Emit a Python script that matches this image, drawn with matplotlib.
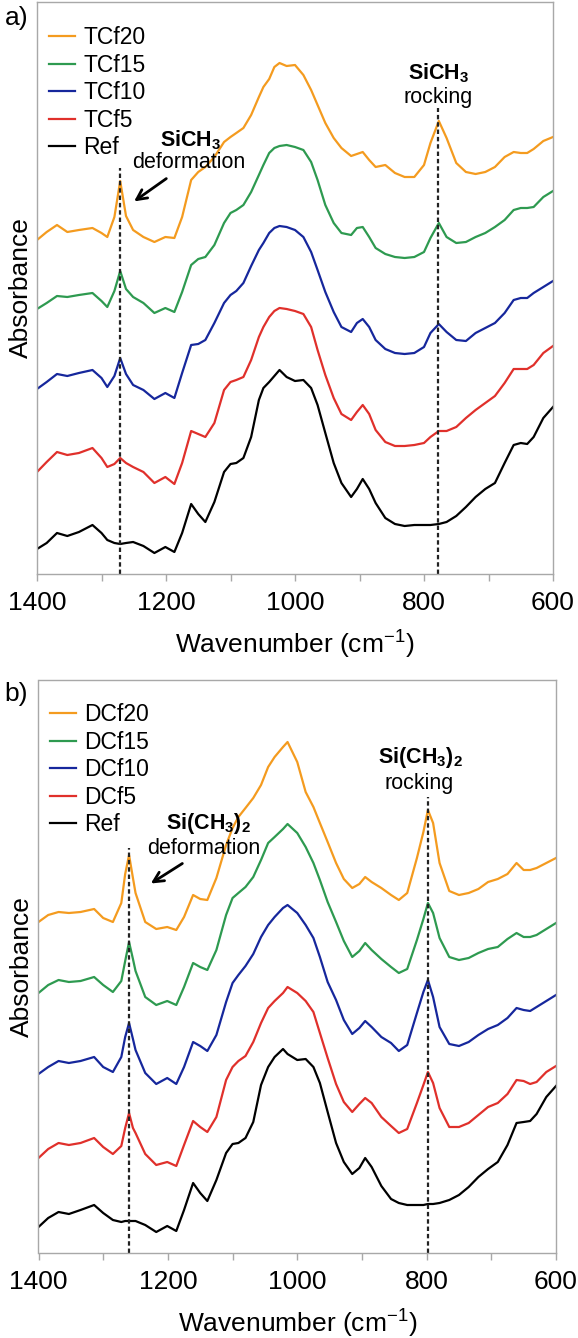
import matplotlib
matplotlib.use('Agg')
import matplotlib.pyplot as plt

plt.rcParams['font.family'] = ['Liberation Sans', 'DejaVu Sans']
plt.rcParams['mathtext.fontset'] = 'custom'
plt.rcParams['mathtext.rm'] = 'Liberation Sans'
plt.rcParams['mathtext.it'] = 'Liberation Sans:italic'
plt.rcParams['mathtext.bf'] = 'Liberation Sans:bold'

# panel a: trimethyl series, stacked absorbance (a.u.)
wn_a = [1400, 1385, 1369, 1353, 1335, 1314, 1300, 1291, 1280, 1271, 1262, 1251, 1235, 1218,
        1201, 1187, 1175, 1161, 1150, 1139, 1125, 1110, 1100, 1091, 1080, 1068, 1056, 1049,
        1040, 1032, 1024, 1013, 1000, 987, 975, 965, 953, 940, 928, 913, 904, 895, 885, 875,
        860, 845, 830, 815, 800, 790, 777, 765, 750, 735, 720, 705, 690, 675, 661, 650, 640,
        630, 615, 600]
tcf20 = [334, 342, 349, 342, 344, 346, 341, 337, 357, 393, 358, 344, 337, 332,
         337, 336, 357, 394, 402, 407, 417, 432, 437, 441, 446, 459, 477, 487,
         495, 507, 511, 508, 509, 499, 484, 469, 451, 436, 426, 418, 420, 422, 414, 407,
         409, 401, 397, 397, 409, 431, 453, 436, 411, 402, 400, 402, 407, 417, 422, 421, 421,
         425, 433, 437]
tcf15 = [265, 271, 278, 277, 279, 281, 273, 267, 283, 303, 285, 277, 271, 261,
         266, 262, 282, 309, 315, 317, 329, 351, 361, 364, 369, 382, 399, 409,
         421, 426, 428, 429, 427, 424, 412, 394, 369, 351, 341, 339, 346, 347, 337, 326,
         320, 317, 316, 317, 322, 336, 351, 337, 331, 332, 337, 341, 347, 354, 364, 366, 366,
         367, 377, 383]
tcf10 = [185, 192, 200, 198, 201, 204, 196, 187, 198, 216, 200, 189, 184, 175,
         181, 176, 201, 229, 230, 234, 251, 271, 279, 283, 291, 308, 324, 331,
         341, 346, 348, 347, 344, 337, 322, 304, 282, 262, 247, 242, 251, 255, 247, 234,
         225, 221, 220, 221, 227, 241, 250, 242, 234, 233, 241, 246, 251, 261, 274, 276, 276,
         281, 287, 293]
tcf5 = [102, 112, 122, 119, 121, 126, 116, 107, 110, 116, 111, 107, 102, 91,
        97, 90, 111, 143, 140, 137, 151, 184, 192, 194, 197, 214, 237, 247,
        257, 263, 266, 265, 263, 260, 247, 224, 199, 176, 160, 154, 162, 169, 160, 144,
        132, 128, 128, 129, 131, 137, 143, 143, 147, 156, 164, 171, 178, 191, 205, 205, 205,
        209, 221, 228]
ref_a = [25, 31, 41, 38, 42, 49, 41, 34, 31, 30, 31, 32, 28, 21,
         27, 22, 41, 70, 60, 52, 72, 102, 110, 111, 116, 137, 174, 186,
         192, 198, 204, 197, 193, 194, 186, 169, 141, 111, 91, 77, 85, 95, 85, 71,
         56, 50, 48, 49, 49, 49, 50, 52, 58, 67, 77, 85, 91, 111, 129, 131, 130,
         137, 156, 167]

# panel b: dimethyl series
wn_b = [1400, 1385, 1369, 1353, 1335, 1314, 1300, 1285, 1272, 1266, 1260, 1254, 1250, 1235,
        1218, 1201, 1187, 1175, 1161, 1150, 1139, 1125, 1110, 1100, 1091, 1080, 1068, 1056,
        1045, 1035, 1022, 1015, 1000, 987, 975, 965, 953, 940, 928, 915, 904, 895, 885, 870,
        855, 843, 830, 815, 805, 798, 790, 780, 765, 750, 735, 720, 705, 690, 675, 661, 650,
        640, 630, 615, 600]
dcf20 = [331, 338, 341, 340, 341, 344, 335, 331, 350, 379, 398, 375, 360, 331,
         324, 326, 323, 336, 358, 354, 353, 375, 408, 425, 436, 445, 455, 468,
         486, 496, 506, 511, 491, 461, 446, 430, 411, 390, 374, 365, 369, 376, 371, 365,
         358, 353, 360, 395, 421, 443, 430, 390, 362, 358, 360, 364, 371, 374, 379, 390, 383,
         383, 385, 390, 395]
dcf15 = [260, 268, 273, 271, 272, 276, 268, 261, 272, 292, 311, 294, 282, 256,
         248, 252, 248, 266, 290, 286, 283, 303, 338, 355, 360, 366, 376, 393,
         410, 416, 424, 429, 420, 406, 390, 373, 351, 331, 312, 296, 302, 310, 303, 294,
         286, 280, 284, 313, 334, 350, 340, 315, 296, 293, 295, 300, 304, 306, 314, 320, 316,
         316, 318, 324, 330]
dcf10 = [179, 186, 192, 190, 192, 196, 186, 181, 196, 216, 230, 214, 203, 180,
         169, 175, 169, 186, 211, 207, 202, 218, 251, 270, 278, 287, 299, 316,
         328, 336, 345, 348, 340, 328, 315, 296, 271, 253, 233, 219, 225, 232, 226, 216,
         210, 202, 208, 240, 261, 273, 256, 226, 209, 207, 211, 218, 224, 228, 235, 245, 243,
         242, 246, 252, 258]
dcf5 = [95, 104, 110, 108, 110, 115, 106, 99, 107, 125, 140, 125, 120, 99,
        88, 91, 87, 108, 132, 126, 121, 136, 173, 186, 192, 197, 211, 230,
        245, 252, 260, 266, 260, 252, 241, 220, 195, 169, 151, 141, 149, 155, 150, 136,
        127, 120, 124, 150, 168, 181, 170, 145, 126, 126, 130, 138, 146, 150, 159, 173, 172,
        169, 171, 181, 187]
ref_b = [26, 35, 41, 39, 43, 48, 40, 33, 31, 32, 32, 32, 32, 28,
         21, 27, 22, 43, 70, 60, 52, 73, 100, 109, 110, 115, 131, 168,
         186, 196, 204, 199, 193, 194, 186, 170, 141, 110, 91, 79, 85, 95, 86, 67,
         54, 50, 48, 48, 48, 49, 49, 50, 53, 58, 66, 76, 84, 91, 108, 130, 131,
         132, 139, 156, 167]

labels_a = ['TCf20', 'TCf15', 'TCf10', 'TCf5', 'Ref']
labels_b = ['DCf20', 'DCf15', 'DCf10', 'DCf5', 'Ref']
colors = ['#f49b1f', '#2e9a50', '#16279c', '#e0302b', 'black']

peaks_a = [1271, 778]
peaks_b = [1260, 798]

GREY = '#a8a8a8'
DASH = (0, (2, 1.3))


def setup_axes(ax, top):
    ax.set_xlim(1400, 600)
    ax.set_ylim(0, top)
    ax.set_xticks([1400, 1200, 1000, 800, 600])
    ax.set_xticks([1300, 1100, 900, 700], minor=True)
    ax.tick_params(axis='x', which='both', direction='out', length=5, width=1,
                   color=GREY, labelsize=19, pad=7)
    ax.tick_params(axis='y', left=False, labelleft=False)
    for s in ax.spines.values():
        s.set_color(GREY)
        s.set_linewidth(1)
    ax.set_xlabel('Wavenumber (cm$^{-1}$)', fontsize=19, labelpad=10)
    ax.set_ylabel('Absorbance', fontsize=19, labelpad=3)


def draw(ax, wn, series, labels, anchor):
    for y, lab, c in zip(series, labels, colors):
        ax.plot(wn, y, color=c, lw=1.6, label=lab, solid_joinstyle='round')
    ax.legend(loc='upper left', bbox_to_anchor=anchor, bbox_transform=fig.transFigure,
              frameon=False, fontsize=16.5, handlelength=1.15, handletextpad=0.35,
              labelspacing=0.2, borderpad=0, borderaxespad=0)


fig = plt.figure(figsize=(5.78, 13.38), dpi=100)
ax_a = fig.add_axes([37 / 578, 1 - 574 / 1338, 516 / 578, 572 / 1338])
ax_b = fig.add_axes([38.5 / 578, 1 - 1253 / 1338, 517.5 / 578, 573 / 1338])

# panel a
setup_axes(ax_a, 572)
draw(ax_a, wn_a, [tcf20, tcf15, tcf10, tcf5, ref_a], labels_a, (49 / 578, 1 - 26 / 1338))
ax_a.vlines(peaks_a[0], 0, 406, colors='#222222', linestyles=DASH, lw=1.6)
ax_a.vlines(peaks_a[1], 0, 466, colors='#222222', linestyles=DASH, lw=1.6)
ax_a.text(1162, 434, r'$\mathbf{SiCH_3}$', ha='center', va='center', fontsize=15.5)
ax_a.text(1165, 411, 'deformation', ha='center', va='center', fontsize=15.5)
ax_a.annotate('', xy=(1253, 371), xytext=(1196, 397),
              arrowprops=dict(arrowstyle='->', color='black', lw=2, mutation_scale=18))
ax_a.text(778, 501, r'$\mathbf{SiCH_3}$', ha='center', va='center', fontsize=15.5)
ax_a.text(778, 476, 'rocking', ha='center', va='center', fontsize=15.5)

# panel b
setup_axes(ax_b, 573)
draw(ax_b, wn_b, [dcf20, dcf15, dcf10, dcf5, ref_b], labels_b, (50 / 578, 1 - 703 / 1338))
ax_b.vlines(peaks_b[0], 0, 405, colors='#222222', linestyles=DASH, lw=1.6)
ax_b.vlines(peaks_b[1], 0, 456, colors='#222222', linestyles=DASH, lw=1.6)
ax_b.text(1137, 429, r'$\mathbf{Si(CH_3)_2}$', ha='center', va='center', fontsize=15.5)
ax_b.text(1144, 404, 'deformation', ha='center', va='center', fontsize=15.5)
ax_b.annotate('', xy=(1230, 368), xytext=(1174, 391),
              arrowprops=dict(arrowstyle='->', color='black', lw=2, mutation_scale=18))
ax_b.text(810, 495, r'$\mathbf{Si(CH_3)_2}$', ha='center', va='center', fontsize=15.5)
ax_b.text(811, 470, 'rocking', ha='center', va='center', fontsize=15.5)

fig.text(28 / 578, 1 - 18 / 1338, 'a)', ha='right', va='center', fontsize=19)
fig.text(28 / 578, 1 - 694 / 1338, 'b)', ha='right', va='center', fontsize=19)

fig.savefig('out.png', dpi=100)
